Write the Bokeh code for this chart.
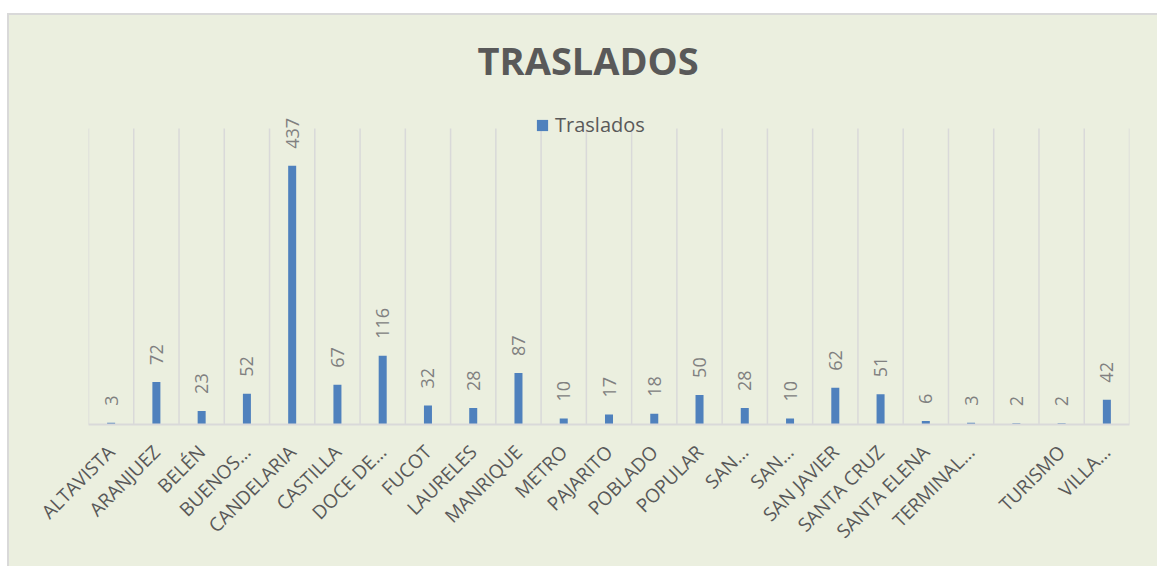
import math
from bokeh.plotting import figure
from bokeh.models import Range1d, FixedTicker, ColumnDataSource, Legend, LegendItem, Label
from bokeh.core.properties import value
from bokeh.embed import file_html
from bokeh.resources import INLINE

# ---- data ----
categories = ["ALTAVISTA", "ARANJUEZ", "BELÉN", "BUENOS…", "CANDELARIA", "CASTILLA",
              "DOCE DE…", "FUCOT", "LAURELES", "MANRIQUE", "METRO", "PAJARITO",
              "POBLADO", "POPULAR", "SAN…", "SAN…", "SAN JAVIER", "SANTA CRUZ",
              "SANTA ELENA", "TERMINAL…", "", "TURISMO", "VILLA…"]
traslados = [3, 72, 23, 52, 437, 67, 116, 32, 28, 87, 10, 17, 18, 50, 28, 10,
             62, 51, 6, 3, 2, 2, 42]
series_name = "Traslados"
title_text = "TRASLADOS"
y_max = 500          # top of the value axis (where the grid lines stop)

# ---- styles / layout ----
BG = "#EBEFDF"
GRID = "#D9D9D9"
BAR = "#4F81BD"
DARK = "#595959"
LABEL = "#808080"
FONT = "Open Sans"

W, H = 1150, 553
B_LEFT, B_RIGHT, B_TOP, B_BOTTOM = 79, 30, 10, 144
PLOT_PX = 296                      # pixel height of the 0..y_max band
frame_h = H - B_TOP - B_BOTTOM
y_top = y_max * frame_h / PLOT_PX  # frame extends above the grid for title/legend

n = len(categories)
idx = list(range(n))
bounds = [i - 0.5 for i in range(n + 1)]
src = ColumnDataSource(dict(x=idx, y=traslados, lab=[str(v) for v in traslados]))

p = figure(width=W, height=H,
           x_range=Range1d(-0.5, n - 0.5), y_range=Range1d(0, y_top),
           output_backend="svg", toolbar_location=None,
           min_border_left=B_LEFT, min_border_right=B_RIGHT,
           min_border_top=B_TOP, min_border_bottom=B_BOTTOM,
           background_fill_color=BG, border_fill_color=BG,
           outline_line_color=None)
p.margin = (13, 0, 0, 7)
p.styles = {"border-top": "2px solid #D9D9D9", "border-left": "2px solid #D9D9D9",
            "background-color": BG}

# vertical grid lines between categories, stopping at y_max
p.segment(x0=bounds, x1=bounds, y0=[0] * len(bounds), y1=[y_max] * len(bounds),
          line_color=GRID, line_width=1.5)

r = p.vbar(x="x", top="y", width=0.177, bottom=0, source=src,
           fill_color=BAR, line_color=None)

p.text(x="x", y="y", text="lab", source=src, angle=math.pi / 2,
       text_align="left", text_baseline="middle", y_offset=-17,
       text_font=value(FONT), text_font_size="18px", text_color=LABEL)

# axes
p.yaxis.visible = False
p.ygrid.visible = False
p.xgrid.visible = False
xa = p.xaxis[0]
xa.ticker = FixedTicker(ticks=idx)
xa.major_label_overrides = {i: c for i, c in zip(idx, categories)}
xa.major_label_orientation = math.pi / 4
xa.major_label_text_font = FONT
xa.major_label_text_font_size = "19px"
xa.major_label_text_color = DARK
xa.major_label_standoff = 18
xa.major_tick_line_color = None
xa.minor_tick_line_color = None
xa.axis_line_color = GRID
xa.axis_line_width = 2

# legend
legend = Legend(items=[LegendItem(label=series_name, renderers=[r])],
                location=(447, 286), orientation="horizontal",
                background_fill_alpha=0, border_line_color=None,
                padding=0, margin=0, spacing=0,
                glyph_width=14, glyph_height=14, label_standoff=6,
                label_text_font=FONT, label_text_font_size="20px",
                label_text_color=DARK)
p.add_layout(legend, "center")

# title
p.add_layout(Label(x=10.54, y=615, text=title_text, text_align="center",
                   text_baseline="alphabetic", text_font=FONT,
                   text_font_size="38px", text_font_style="bold",
                   text_color=DARK))

open("out.html", "w").write(file_html(p, INLINE))
